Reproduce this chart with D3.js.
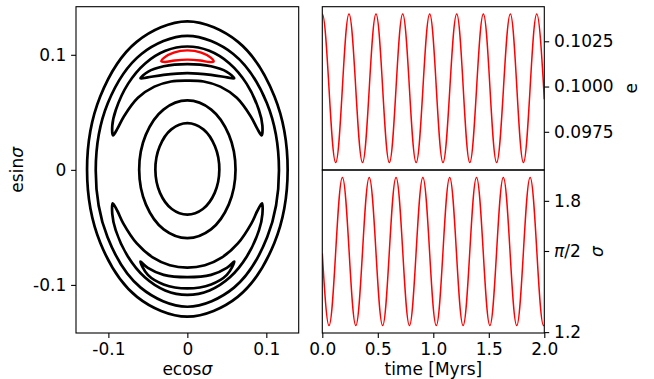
<!DOCTYPE html>
<html><head><meta charset="utf-8">
<script src="https://cdn.jsdelivr.net/npm/d3@7"></script>
<style>
body{margin:0;background:#fff}
svg{display:block}
text{font-family:"DejaVu Sans",sans-serif}
</style>
</head><body>
<svg id="c" width="654" height="379"></svg>
<script>
// ---------------- DATA ----------------
// Phase portrait trajectories, polar form: sigma in degrees, e (eccentricity)
const ringSigma = [0,30,60,90,120,150,180,210,240,270,300,330];
const ring1E = [.0405,.0405,.0406,.0406,.0406,.0405,.0405,.0400,.0393,.0390,.0393,.0400];
const ring2E = [.0610,.0608,.0605,.0603,.0605,.0608,.0610,.0605,.0598,.0594,.0598,.0605];
const ring3E = [.1160,.1162,.1163,.1165,.1163,.1162,.1160,.1168,.1182,.1190,.1182,.1168];
const ring4E = [.1270,.1274,.1284,.1290,.1284,.1274,.1270,.1272,.1275,.1276,.1275,.1272];

const upperBigSigma = [17.7,22,30,45,60,75,90,105,120,135,150,158,162.3,158,150,135,120,105,90,75,60,45,30,22];
const upperBigE = [.0987,.1025,.1045,.1060,.1068,.1071,.1072,.1071,.1068,.1060,.1045,.1025,.0987,.0955,.0928,.0885,.0835,.0795,.0775,.0795,.0835,.0885,.0928,.0955];

const upperSmallSigma = [53.3,59.6,71.6,90,108.4,120.4,126.7,122,110,90,70,58];
const upperSmallE = [.0992,.0988,.0949,.0919,.0949,.0988,.0992,.0948,.0879,.0841,.0879,.0948];

const lowerBigSigma = [-17.1,-22,-30,-45,-60,-75,-90,-105,-120,-135,-150,-158,-162.9,-158,-150,-135,-120,-105,-90,-75,-60,-45,-30,-22];
const lowerBigE = [.0988,.1025,.1048,.1065,.1078,.1085,.1087,.1085,.1078,.1065,.1048,.1025,.0988,.0955,.0935,.0905,.0878,.0858,.0850,.0858,.0878,.0905,.0935,.0955];

const lowerSmallSigma = [-53.3,-61.3,-73.2,-90,-106.8,-118.7,-126.7,-120.4,-108.2,-90,-71.8,-59.6];
const lowerSmallE = [.0995,.1041,.1040,.1030,.1040,.1041,.0995,.0988,.0961,.0933,.0961,.0988];

const redSigma = [89.9,80.2,73.1,70.5,73.1,80.2,89.9,99.6,106.7,109.3,106.7,99.6];
const redE = [.1038,.10335,.1019,.0999,.0979,.0964,.0958,.0964,.0979,.0999,.1019,.10335];

// Time series (extremes) in Myrs
const eTimes = [0,0.1208,0.2405,0.3624,0.4838,0.604,0.7243,0.8456,0.9676,1.0872,1.211,1.3288,1.451,1.5704,1.694,1.812,1.932,2.0];
const eValues = [0.1040,0.0958,0.1040,0.0958,0.1040,0.0958,0.1040,0.0958,0.1040,0.0958,0.1040,0.0958,0.1040,0.0958,0.1040,0.0958,0.1040,0.0993];

const sigmaTimes = [0,0.0604,0.1812,0.302,0.4228,0.5436,0.6644,0.7852,0.906,1.0268,1.1476,1.2684,1.3892,1.51,1.6308,1.7516,1.8724,1.9932,2.0];
const sigmaValues = [1.560,1.230,1.907,1.230,1.907,1.230,1.907,1.230,1.907,1.230,1.907,1.230,1.907,1.230,1.907,1.230,1.907,1.230,1.2315];

// Ticks
const leftXTicks = [-0.1,0,0.1];
const leftXTickLabels = ['-0.1','0','0.1'];
const leftYTicks = [-0.1,0,0.1];
const leftYTickLabels = ['-0.1','0','0.1'];
const timeTicks = [0,0.5,1.0,1.5,2.0];
const timeTickLabels = ['0.0','0.5','1.0','1.5','2.0'];
const eTicks = [0.0975,0.1000,0.1025];
const eTickLabels = ['0.0975','0.1000','0.1025'];
const sigmaTicks = [1.2,Math.PI/2,1.8];
const sigmaTickLabels = ['1.2','π/2','1.8'];

// ---------------- LAYOUT ----------------
const FS = 17;
const svg = d3.select('#c');
const L = {x0:76, x1:298.7, y0:6.7, y1:333};
const R = {x0:322.3, x1:544.3, y0:6.7, ym:170, y1:333};

const xL = d3.scaleLinear().domain([-0.141,0.141]).range([L.x0,L.x1]);
const yL = d3.scaleLinear().domain([-0.1418,0.1418]).range([L.y1,L.y0]);
const xR = d3.scaleLinear().domain([0,2]).range([R.x0,R.x1]);
const yE = d3.scaleLinear().domain([0.09539,0.10441]).range([R.ym,R.y0]);
const yS = d3.scaleLinear().domain([1.196,1.941]).range([R.y1,R.ym]);

const defs = svg.append('defs');
defs.append('clipPath').attr('id','clipL').append('rect')
  .attr('x',L.x0).attr('y',L.y0).attr('width',L.x1-L.x0).attr('height',L.y1-L.y0);
defs.append('clipPath').attr('id','clipT').append('rect')
  .attr('x',R.x0).attr('y',R.y0).attr('width',R.x1-R.x0).attr('height',R.ym-R.y0);
defs.append('clipPath').attr('id','clipB').append('rect')
  .attr('x',R.x0).attr('y',R.ym).attr('width',R.x1-R.x0).attr('height',R.y1-R.ym);

// ---------------- LEFT PANEL ----------------
const rad = Math.PI/180;
const polarLine = d3.line()
  .x(d => xL(d[1]*Math.cos(d[0]*rad)))
  .y(d => yL(d[1]*Math.sin(d[0]*rad)))
  .curve(d3.curveCatmullRomClosed.alpha(0.5));

const trajectories = [
  {s: ringSigma, e: ring1E, c:'#000'},
  {s: ringSigma, e: ring2E, c:'#000'},
  {s: ringSigma, e: ring3E, c:'#000'},
  {s: ringSigma, e: ring4E, c:'#000'},
  {s: upperBigSigma, e: upperBigE, c:'#000'},
  {s: upperSmallSigma, e: upperSmallE, c:'#000'},
  {s: lowerBigSigma, e: lowerBigE, c:'#000'},
  {s: lowerSmallSigma, e: lowerSmallE, c:'#000'},
  {s: redSigma, e: redE, c:'#ff0000'}
];
const gL = svg.append('g').attr('clip-path','url(#clipL)');
trajectories.forEach(t => {
  gL.append('path')
    .attr('d', polarLine(d3.zip(t.s, t.e)))
    .attr('fill','none')
    .attr('stroke', t.c)
    .attr('stroke-width', t.c === '#000' ? 2.7 : 2.4)
    .attr('stroke-linejoin','round');
});

function styleAxis(g){
  g.select('.domain').remove();
  g.selectAll('.tick line').attr('stroke','#000').attr('stroke-width',1.1);
  g.selectAll('.tick text').attr('font-size',FS).attr('font-family','"DejaVu Sans", sans-serif').attr('fill','#000');
}
const TS = 4.9, TP = 4.9;

svg.append('g').attr('transform',`translate(0,${L.y1})`)
  .call(d3.axisBottom(xL).tickValues(leftXTicks).tickFormat((d,i)=>leftXTickLabels[i]).tickSize(TS).tickPadding(TP))
  .call(styleAxis);
svg.append('g').attr('transform',`translate(${L.x0},0)`)
  .call(d3.axisLeft(yL).tickValues(leftYTicks).tickFormat((d,i)=>leftYTickLabels[i]).tickSize(TS).tickPadding(TP))
  .call(styleAxis);

svg.append('rect').attr('x',L.x0).attr('y',L.y0).attr('width',L.x1-L.x0).attr('height',L.y1-L.y0)
  .attr('fill','none').attr('stroke','#000').attr('stroke-width',1.1);

// axis labels left
const xlab = svg.append('text').attr('x',(L.x0+L.x1)/2).attr('y',375).attr('text-anchor','middle').attr('font-size',FS);
xlab.append('tspan').text('ecos');
xlab.append('tspan').attr('font-style','italic').text('σ');
const ylab = svg.append('text').attr('transform',`translate(23,${(L.y0+L.y1)/2}) rotate(-90)`).attr('text-anchor','middle').attr('font-size',FS);
ylab.append('tspan').text('esin');
ylab.append('tspan').attr('font-style','italic').text('σ');

// ---------------- RIGHT PANELS ----------------
function curveExtrema(context){
  let pts;
  return {
    areaStart(){}, areaEnd(){},
    lineStart(){ pts = []; },
    point(x,y){ pts.push([+x,+y]); },
    lineEnd(){
      const n = pts.length; if(!n) return;
      const ys = pts.map(p=>p[1]);
      const ymin = d3.min(ys), ymax = d3.max(ys), amp = ymax - ymin;
      const m = new Array(n);
      for(let i=0;i<n;i++){
        if(i>0 && i<n-1){
          const a = pts[i][1]-pts[i-1][1], b = pts[i+1][1]-pts[i][1];
          m[i] = (a*b <= 0) ? 0 : (pts[i+1][1]-pts[i-1][1])/(pts[i+1][0]-pts[i-1][0]);
        } else {
          const y = pts[i][1];
          if (Math.min(y-ymin, ymax-y) < 0.1*amp) m[i] = 0;
          else {
            const j = i === 0 ? 1 : n-2;
            m[i] = Math.PI/2 * (pts[j][1]-y)/(pts[j][0]-pts[i][0]);
          }
        }
      }
      context.moveTo(pts[0][0], pts[0][1]);
      for(let i=0;i<n-1;i++){
        const [x0,y0] = pts[i], [x1,y1] = pts[i+1];
        const dx = x1-x0;
        const k = (m[i]===0 && m[i+1]===0) ? 0.3634 : 1/3;
        context.bezierCurveTo(x0+k*dx, y0+m[i]*k*dx, x1-k*dx, y1-m[i+1]*k*dx, x1, y1);
      }
    }
  };
}

const lineE = d3.line().x(d=>xR(d[0])).y(d=>yE(d[1])).curve(curveExtrema);
const lineS = d3.line().x(d=>xR(d[0])).y(d=>yS(d[1])).curve(curveExtrema);

svg.append('g').attr('clip-path','url(#clipT)').append('path')
  .attr('d', lineE(d3.zip(eTimes, eValues)))
  .attr('fill','none').attr('stroke','#ff0000').attr('stroke-width',1.5);
svg.append('g').attr('clip-path','url(#clipB)').append('path')
  .attr('d', lineS(d3.zip(sigmaTimes, sigmaValues)))
  .attr('fill','none').attr('stroke','#ff0000').attr('stroke-width',1.5);

svg.append('g').attr('transform',`translate(0,${R.y1})`)
  .call(d3.axisBottom(xR).tickValues(timeTicks).tickFormat((d,i)=>timeTickLabels[i]).tickSize(TS).tickPadding(TP))
  .call(styleAxis);
svg.append('g').attr('transform',`translate(${R.x1},0)`)
  .call(d3.axisRight(yE).tickValues(eTicks).tickFormat((d,i)=>eTickLabels[i]).tickSize(TS).tickPadding(TP))
  .call(styleAxis);
const gS = svg.append('g').attr('transform',`translate(${R.x1},0)`)
  .call(d3.axisRight(yS).tickValues(sigmaTicks).tickFormat((d,i)=>sigmaTickLabels[i]).tickSize(TS).tickPadding(TP))
  .call(styleAxis);
gS.selectAll('.tick text').each(function(){
  const t = d3.select(this);
  if (t.text() === 'π/2') {
    t.text(null);
    t.append('tspan').attr('font-style','italic').text('π');
    t.append('tspan').text('/2');
  }
});

svg.append('rect').attr('x',R.x0).attr('y',R.y0).attr('width',R.x1-R.x0).attr('height',R.ym-R.y0)
  .attr('fill','none').attr('stroke','#000').attr('stroke-width',1.1);
svg.append('rect').attr('x',R.x0).attr('y',R.ym).attr('width',R.x1-R.x0).attr('height',R.y1-R.ym)
  .attr('fill','none').attr('stroke','#000').attr('stroke-width',1.1);

svg.append('text').attr('x',(R.x0+R.x1)/2).attr('y',375).attr('text-anchor','middle').attr('font-size',FS).text('time [Myrs]');
svg.append('text').attr('transform',`translate(636.5,${(R.y0+R.ym)/2}) rotate(-90)`).attr('text-anchor','middle').attr('font-size',FS).text('e');
svg.append('text').attr('transform',`translate(603,${(R.ym+R.y1)/2}) rotate(-90)`).attr('text-anchor','middle').attr('font-size',FS).attr('font-style','italic').text('σ');
</script>
</body></html>
